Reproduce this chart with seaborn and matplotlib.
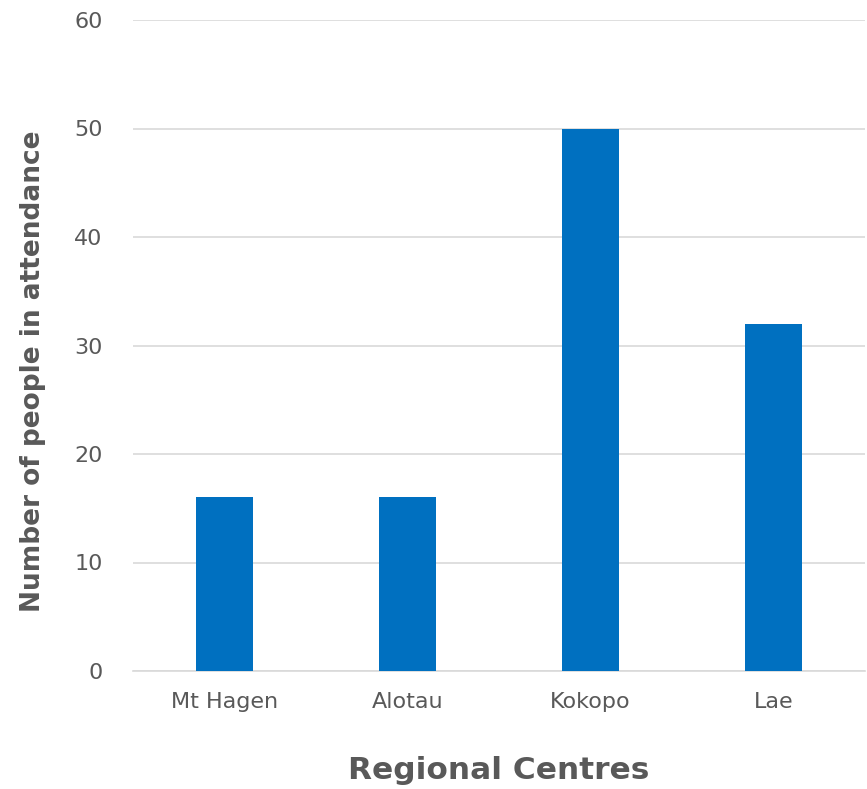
import matplotlib
matplotlib.use("Agg")
import matplotlib.pyplot as plt
import seaborn as sns
import pandas as pd

centres = ["Mt Hagen", "Alotau", "Kokopo", "Lae"]
attendance = [16, 16, 50, 32]
y_ticks = [0, 10, 20, 30, 40, 50, 60]

sns.set_theme(style="white")
plt.rcParams['font.family'] = ['DejaVu Sans']

df = pd.DataFrame({"centre": centres, "count": attendance})

fig = plt.figure(figsize=(8.67, 7.89), dpi=100)
ax = fig.add_axes([133/867, 118/789, 732/867, 651/789])
sns.barplot(data=df, x="centre", y="count", color="#0070C0", saturation=1,
            width=0.31, linewidth=0, ax=ax, zorder=3)
ax.set_ylim(0, 60)
ax.set_xlim(-0.5, 3.5)
ax.set_yticks(y_ticks)
ax.yaxis.grid(True, color="#D9D9D9", linewidth=1.2, zorder=0)
ax.set_axisbelow(True)
for s in ["top", "right", "left"]:
    ax.spines[s].set_visible(False)
ax.spines["bottom"].set_color("#D9D9D9")
ax.spines["bottom"].set_linewidth(1.2)
ax.tick_params(axis="both", length=0, labelsize=16, labelcolor="#595959")
ax.tick_params(axis="x", pad=15)
ax.tick_params(axis="y", pad=22)
ax.set_xlabel("Regional Centres", fontsize=22.5, fontweight="bold", color="#595959", labelpad=32)
ax.set_ylabel("Number of people in attendance", fontsize=19, fontweight="bold", color="#595959", labelpad=20)
ax.yaxis.label.set_y(0.461)
fig.savefig("out.png", dpi=100)
